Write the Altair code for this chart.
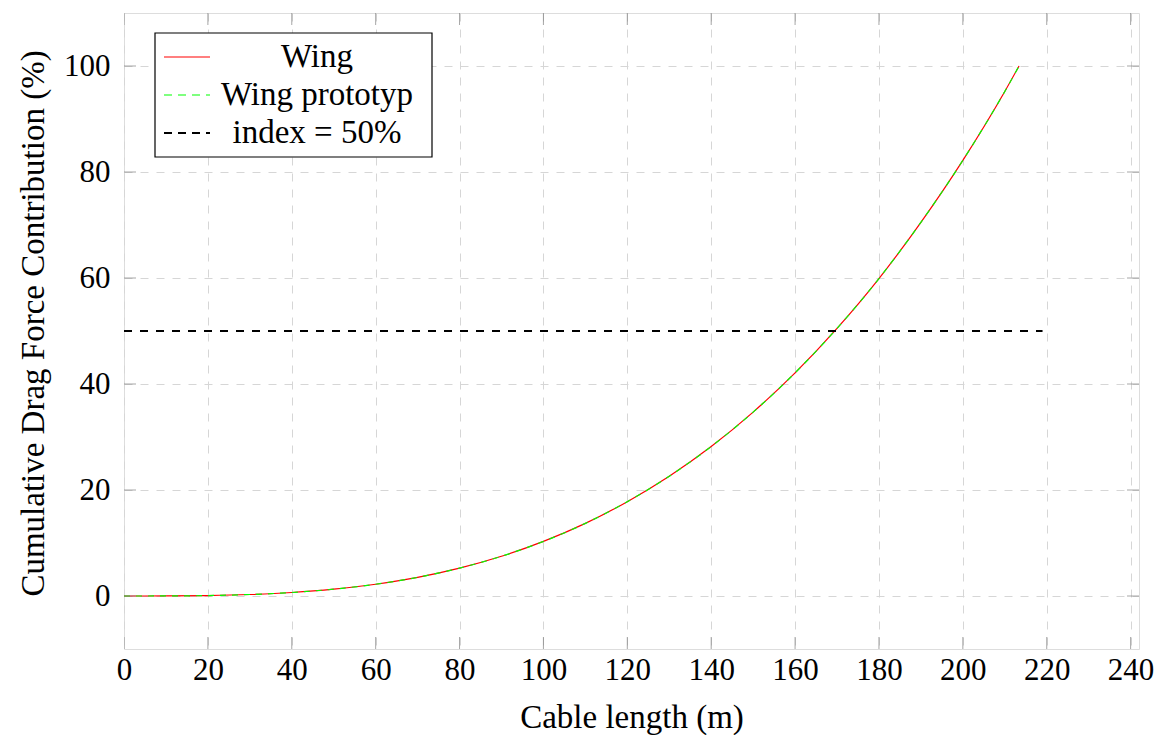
import altair as alt
import pandas as pd

# Curve
cable_length = [0, 10, 20, 30, 40, 50, 60, 70, 80, 90, 100, 110, 120, 130, 140,
                150, 160, 170, 180, 190, 200, 210, 213.4]
contribution = [0, 0.01, 0.08, 0.28, 0.66, 1.29, 2.22, 3.52, 5.26, 7.49, 10.3, 13.7,
                17.8, 22.6, 28.2, 34.7, 42.1, 50.5, 59.9, 70.5, 82.2, 95.2, 100]
index_x = [0, 219]
index_y = [50, 50]
x_ticks = [0, 20, 40, 60, 80, 100, 120, 140, 160, 180, 200, 220, 240]
y_ticks = [0, 20, 40, 60, 80, 100]
legend_labels = ["Wing", "Wing prototyp", "index = 50%"]

W, H = 1015, 636
FONT = "Liberation Serif"
TICK_FS = 31
TITLE_FS = 33

curve = pd.DataFrame({"x": cable_length, "y": contribution})
idx = pd.DataFrame({"x": index_x, "y": index_y})
xt = pd.DataFrame({"v": x_ticks})
yt = pd.DataFrame({"v": y_ticks})

xs = alt.Scale(domain=[0, 242], nice=False, zero=False)
ys = alt.Scale(domain=[-10, 110], nice=False, zero=False)

xaxis = alt.Axis(values=x_ticks, grid=True, gridDash=[8, 8], gridColor="#d6d6d6",
                 gridWidth=1, ticks=False, labelFont=FONT, labelFontSize=TICK_FS,
                 labelPadding=6, labelColor="black", domain=False, labelFlush=False,
                 labelOverlap=False,
                 title="Cable length (m)", titleFont=FONT, titleFontSize=TITLE_FS,
                 titleFontWeight="normal", titleColor="black", titleY=78,
                 titleBaseline="alphabetic")
yaxis = alt.Axis(values=y_ticks, grid=True, gridDash=[8, 8], gridColor="#d6d6d6",
                 gridWidth=1, ticks=False, labelFont=FONT, labelFontSize=TICK_FS,
                 labelPadding=14, labelColor="black", domain=False, labelFlush=False,
                 labelOverlap=False,
                 title="Cumulative Drag Force Contribution (%)", titleFont=FONT,
                 titleFontSize=TITLE_FS, titleFontWeight="normal", titleColor="black",
                 titleX=-81, titleY=310, titleAngle=270, titleAlign="center",
                 titleBaseline="alphabetic")

base_grid = alt.Chart(curve).mark_line(opacity=0).encode(
    x=alt.X("x:Q", scale=xs, axis=xaxis),
    y=alt.Y("y:Q", scale=ys, axis=yaxis),
)

red = alt.Chart(curve).mark_line(color="#ff0000", strokeWidth=1.2, interpolate="monotone").encode(
    x=alt.X("x:Q", scale=xs), y=alt.Y("y:Q", scale=ys))
green = alt.Chart(curve).mark_line(color="#00ff00", strokeWidth=1.2, strokeDash=[6, 6],
                                   interpolate="monotone").encode(
    x=alt.X("x:Q", scale=xs), y=alt.Y("y:Q", scale=ys))
black = alt.Chart(idx).mark_line(color="black", strokeWidth=2.2, strokeDash=[8, 8]).encode(
    x=alt.X("x:Q", scale=xs), y=alt.Y("y:Q", scale=ys))

tick_color = "#808080"
ticks_bottom = alt.Chart(xt).mark_tick(color=tick_color, size=24, thickness=1, clip=True).encode(
    x=alt.X("v:Q", scale=xs), y=alt.value(H))
ticks_top = alt.Chart(xt).mark_tick(color=tick_color, size=24, thickness=1, clip=True).encode(
    x=alt.X("v:Q", scale=xs), y=alt.value(0))
ticks_left = alt.Chart(yt).mark_tick(color=tick_color, size=24, thickness=1, clip=True,
                                     orient="horizontal").encode(
    y=alt.Y("v:Q", scale=ys), x=alt.value(0))
ticks_right = alt.Chart(yt).mark_tick(color=tick_color, size=24, thickness=1, clip=True,
                                      orient="horizontal").encode(
    y=alt.Y("v:Q", scale=ys), x=alt.value(W))

# Legend box
one = pd.DataFrame({"a": [0]})
leg_box = alt.Chart(one).mark_rect(fill="white", stroke="black", strokeWidth=1.2).encode(
    x=alt.value(31), x2=alt.value(308), y=alt.value(20), y2=alt.value(144))
row_y = [44, 82, 120]
text_y = [54, 92, 130]
leg_red = alt.Chart(one).mark_rule(color="#ff0000", strokeWidth=1.2).encode(
    x=alt.value(40), x2=alt.value(86), y=alt.value(row_y[0]))
leg_green = alt.Chart(one).mark_rule(color="#00ff00", strokeWidth=1.2, strokeDash=[8, 6]).encode(
    x=alt.value(40), x2=alt.value(86), y=alt.value(row_y[1]))
leg_black = alt.Chart(one).mark_rule(color="black", strokeWidth=2.2, strokeDash=[8, 6]).encode(
    x=alt.value(40), x2=alt.value(86), y=alt.value(row_y[2]))
leg_text = alt.Chart(pd.DataFrame({"t": legend_labels, "yy": text_y})).mark_text(
    font=FONT, fontSize=TITLE_FS, color="black", align="center", baseline="alphabetic").encode(
    text="t:N", x=alt.value(193), y=alt.Y("yy:Q", scale=None))

chart = alt.layer(
    base_grid, red, green, black,
    ticks_bottom, ticks_top, ticks_left, ticks_right,
    leg_box, leg_red, leg_green, leg_black, leg_text,
).properties(
    width=W, height=H,
    autosize=alt.AutoSizeParams(type="none"),
    padding={"left": 124, "top": 13, "right": 19, "bottom": 86},
).configure_view(stroke="#333333", strokeWidth=1.2).configure(background="white")

chart.save("out.html", embed_options={"renderer": "svg", "actions": False})
